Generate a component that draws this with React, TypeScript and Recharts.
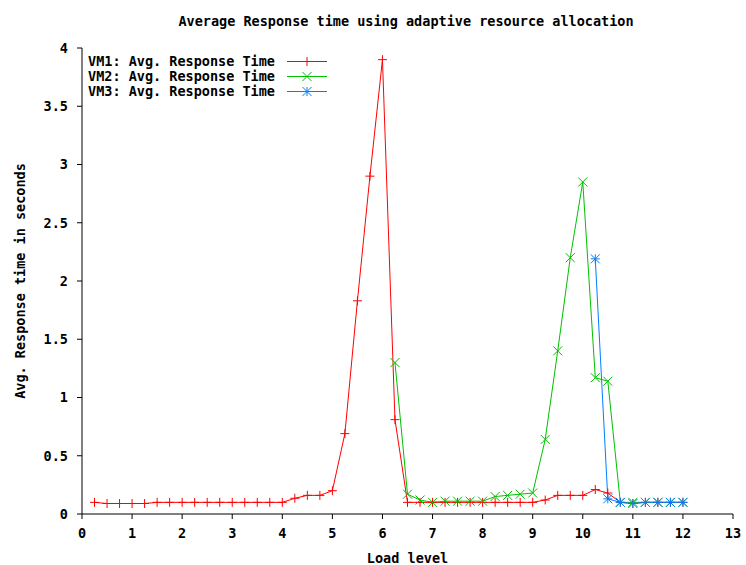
import { CartesianGrid, Line, LineChart, XAxis, YAxis } from "recharts";

const FONT = '"DejaVu Sans Mono", "Liberation Mono", monospace';

const LOAD_LEVELS = [
  0.25, 0.5, 0.75, 1, 1.25, 1.5, 1.75, 2, 2.25, 2.5, 2.75, 3, 3.25, 3.5, 3.75, 4,
  4.25, 4.5, 4.75, 5, 5.25, 5.5, 5.75, 6, 6.25, 6.5, 6.75, 7, 7.25, 7.5, 7.75, 8,
  8.25, 8.5, 8.75, 9, 9.25, 9.5, 9.75, 10, 10.25, 10.5, 10.75, 11, 11.25, 11.5, 11.75, 12,
];

// VM1 covers every load level
const VM1 = [
  0.1, 0.09, 0.09, 0.09, 0.09, 0.1, 0.1, 0.1, 0.1, 0.1, 0.1, 0.1, 0.1, 0.1, 0.1, 0.1,
  0.135, 0.16, 0.16, 0.2, 0.69, 1.83, 2.9, 3.9, 0.81, 0.1, 0.1, 0.1, 0.1, 0.1, 0.1, 0.1,
  0.1, 0.1, 0.1, 0.1, 0.12, 0.16, 0.16, 0.16, 0.21, 0.18, 0.1, 0.09, 0.1, 0.1, 0.1, 0.1,
];

// VM2 starts at load level 6.25
const VM2 = [
  1.3, 0.17, 0.12, 0.1, 0.11, 0.11, 0.11, 0.11, 0.15, 0.16, 0.17, 0.18,
  0.64, 1.4, 2.2, 2.85, 1.17, 1.14, 0.1, 0.1, 0.1, 0.1, 0.1, 0.1,
];

// VM3 starts at load level 10.25
const VM3 = [2.19, 0.13, 0.1, 0.09, 0.1, 0.1, 0.1, 0.1];

const X_TICKS = [0, 1, 2, 3, 4, 5, 6, 7, 8, 9, 10, 11, 12, 13];
const Y_TICKS = [0, 0.5, 1, 1.5, 2, 2.5, 3, 3.5, 4];

const SERIES = [
  { key: "vm1", name: "VM1: Avg. Response Time", color: "#ff0000", mark: "plus" },
  { key: "vm2", name: "VM2: Avg. Response Time", color: "#00c000", mark: "cross" },
  { key: "vm3", name: "VM3: Avg. Response Time", color: "#0080ff", mark: "star" },
];

const chartData = LOAD_LEVELS.map((x, i) => ({
  x,
  vm1: VM1[i],
  vm2: VM2[i - (LOAD_LEVELS.length - VM2.length)],
  vm3: VM3[i - (LOAD_LEVELS.length - VM3.length)],
}));

function markPath(mark: string, cx: number, cy: number) {
  const r = 4.5;
  const plus = `M${cx - r},${cy}h${2 * r}M${cx},${cy - r}v${2 * r}`;
  const cross = `M${cx - r},${cy - r}l${2 * r},${2 * r}M${cx - r},${cy + r}l${2 * r},${-2 * r}`;
  if (mark === "plus") return plus;
  if (mark === "cross") return cross;
  return plus + cross;
}

function makeDot(mark: string, color: string) {
  return (p: any) => {
    if (p.cx == null || p.cy == null || p.value == null) return <g key={p.index} />;
    return <path key={p.index} d={markPath(mark, p.cx, p.cy)} stroke={color} strokeWidth={1} fill="none" />;
  };
}

const textStyle = { fontFamily: FONT, fontSize: 13.5, fontWeight: 700, fill: "#000" };

export default function App() {
  return (
    <div style={{ position: "relative", width: 746, height: 565, background: "#fff" }}>
      <style>{"body{margin:0}"}</style>
      <div
        style={{
          position: "absolute",
          top: 13,
          left: 80,
          width: 652,
          textAlign: "center",
          fontFamily: FONT,
          fontSize: 13.5,
          fontWeight: 700,
          whiteSpace: "pre",
        }}
      >
        Average Response time using adaptive resource allocation
      </div>
      <div
        style={{
          position: "absolute",
          left: 20,
          top: 281,
          transform: "translate(-50%, -50%) rotate(-90deg)",
          fontFamily: FONT,
          fontSize: 13.5,
          fontWeight: 700,
          whiteSpace: "pre",
        }}
      >
        Avg. Response time in seconds
      </div>
      <LineChart width={746} height={565} data={chartData} margin={{ top: 48, right: 13, bottom: 0, left: 0 }}>
        <CartesianGrid stroke="none" />
        <XAxis
          dataKey="x"
          type="number"
          domain={[0, 13]}
          ticks={X_TICKS}
          stroke="#000"
          tickSize={5}
          tickMargin={9}
          height={51}
          tick={textStyle}
          label={{ value: "Load level", position: "insideBottom", offset: 2, style: textStyle }}
        />
        <XAxis
          xAxisId="top"
          orientation="top"
          type="number"
          domain={[0, 13]}
          ticks={X_TICKS}
          stroke="#000"
          tickSize={5}
          tick={false}
          height={0}
        />
        <YAxis
          type="number"
          domain={[0, 4]}
          ticks={Y_TICKS}
          stroke="#000"
          tickSize={5}
          tickMargin={9}
          width={82}
          tick={textStyle}
        />
        <YAxis
          yAxisId="right"
          orientation="right"
          type="number"
          domain={[0, 4]}
          ticks={Y_TICKS}
          stroke="#000"
          tickSize={5}
          tick={false}
          width={0}
        />
        {SERIES.map((s) => (
          <Line
            key={s.key}
            dataKey={s.key}
            name={s.name}
            type="linear"
            stroke={s.color}
            strokeWidth={1}
            dot={makeDot(s.mark, s.color)}
            activeDot={false}
            isAnimationActive={false}
          />
        ))}
      </LineChart>
      <div style={{ position: "absolute", left: 88, top: 54 }}>
        {SERIES.map((s) => (
          <div key={s.key} style={{ display: "flex", alignItems: "center", height: 15 }}>
            <span
              style={{
                fontFamily: FONT,
                fontSize: 13.5,
                fontWeight: 700,
                whiteSpace: "pre",
                width: 197,
                lineHeight: "15px",
              }}
            >
              {s.name}
            </span>
            <svg width={44} height={15}>
              <line x1={2} y1={7.5} x2={42} y2={7.5} stroke={s.color} strokeWidth={1} />
              <path d={markPath(s.mark, 22, 7.5)} stroke={s.color} fill="none" />
            </svg>
          </div>
        ))}
      </div>
    </div>
  );
}
